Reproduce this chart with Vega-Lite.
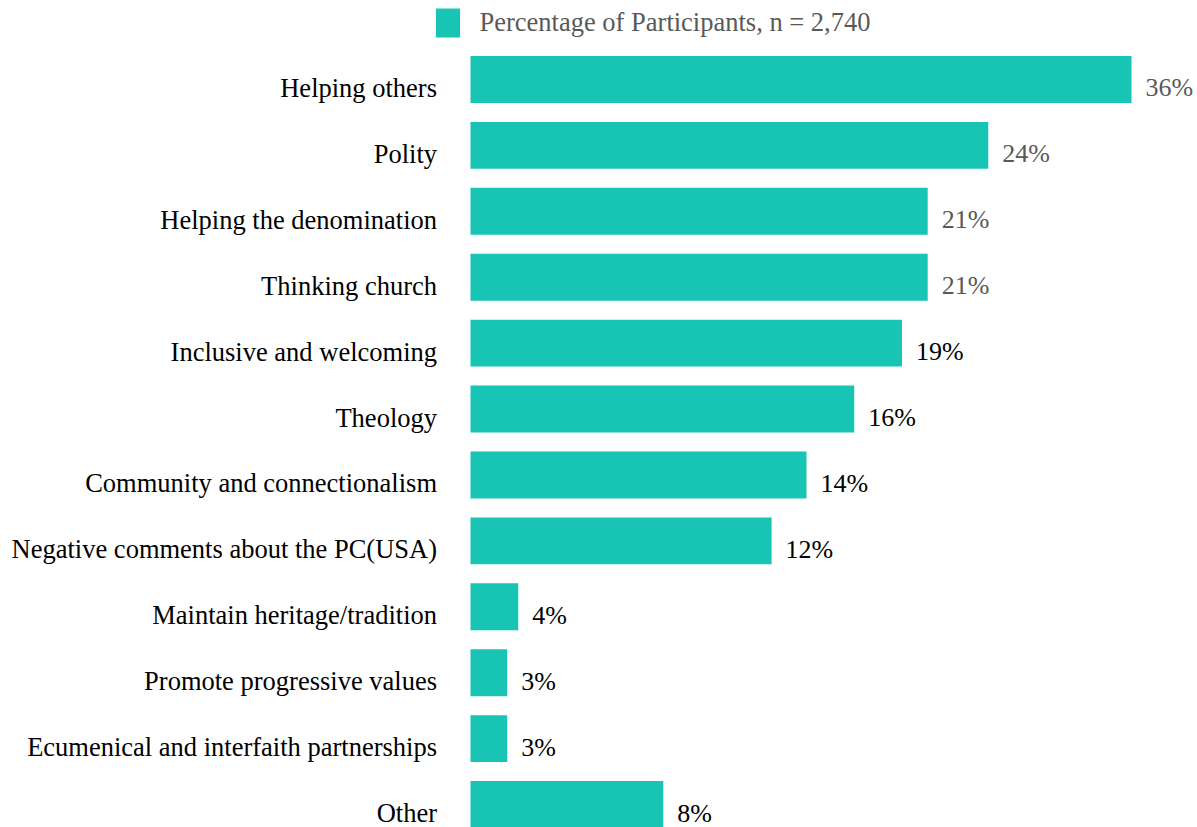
{
  "$schema": "https://vega.github.io/schema/vega-lite/v6.json",
  "width": 661,
  "height": 791,
  "autosize": {"type": "none"},
  "padding": {"left": 470.5, "top": 46.5, "right": 65.5, "bottom": 0},
  "background": "white",
  "config": {
    "view": {"stroke": null},
    "font": "Liberation Serif"
  },
  "data": {
    "values": [
      {"category": "Helping others", "value": 36.0, "label": "36%", "series": "Percentage of Participants, n = 2,740"},
      {"category": "Polity", "value": 28.2, "label": "24%", "series": "Percentage of Participants, n = 2,740"},
      {"category": "Helping the denomination", "value": 24.9, "label": "21%", "series": "Percentage of Participants, n = 2,740"},
      {"category": "Thinking church", "value": 24.9, "label": "21%", "series": "Percentage of Participants, n = 2,740"},
      {"category": "Inclusive and welcoming", "value": 23.5, "label": "19%", "series": "Percentage of Participants, n = 2,740"},
      {"category": "Theology", "value": 20.9, "label": "16%", "series": "Percentage of Participants, n = 2,740"},
      {"category": "Community and connectionalism", "value": 18.3, "label": "14%", "series": "Percentage of Participants, n = 2,740"},
      {"category": "Negative comments about the PC(USA)", "value": 16.4, "label": "12%", "series": "Percentage of Participants, n = 2,740"},
      {"category": "Maintain heritage/tradition", "value": 2.6, "label": "4%", "series": "Percentage of Participants, n = 2,740"},
      {"category": "Promote progressive values", "value": 2.0, "label": "3%", "series": "Percentage of Participants, n = 2,740"},
      {"category": "Ecumenical and interfaith partnerships", "value": 2.0, "label": "3%", "series": "Percentage of Participants, n = 2,740"},
      {"category": "Other", "value": 10.5, "label": "8%", "series": "Percentage of Participants, n = 2,740"}
    ]
  },
  "encoding": {
    "y": {
      "field": "category",
      "type": "nominal",
      "sort": null,
      "scale": {"paddingInner": 0.287, "paddingOuter": 0.1435},
      "axis": {
        "title": null,
        "domain": false,
        "ticks": false,
        "labelPadding": 34,
        "labelFont": "Liberation Serif",
        "labelFontSize": 26.5,
        "labelColor": "#000000",
        "labelBaseline": "alphabetic",
        "labelOffset": 17.5,
        "labelLimit": 600
      }
    },
    "x": {
      "field": "value",
      "type": "quantitative",
      "scale": {"domain": [0, 36], "nice": false, "zero": true},
      "axis": null
    }
  },
  "layer": [
    {
      "mark": {"type": "bar", "clip": false},
      "encoding": {
        "color": {
          "field": "series",
          "type": "nominal",
          "scale": {"range": ["#18C4B4"]},
          "legend": {
            "title": null,
            "orient": "none",
            "legendX": -37,
            "legendY": -38,
            "symbolType": "M-0.83,-1H0.83V1H-0.83Z",
            "symbolSize": 841,
            "symbolStrokeWidth": 0,
            "labelFont": "Liberation Serif",
            "labelFontSize": 26.5,
            "labelColor": "#595959",
            "labelOffset": 17,
            "labelLimit": 800,
            "padding": 0,
            "encode": {"symbols": {"update": {"fill": {"value": "#08CABB"}}}}
          }
        }
      }
    },
    {
      "mark": {"type": "text", "align": "left", "baseline": "alphabetic", "dx": 14, "dy": 17, "font": "Liberation Serif", "fontSize": 26},
      "encoding": {
        "text": {"field": "label"},
        "color": {
          "condition": {"test": "datum.value >= 24", "value": "#595959"},
          "value": "#000000"
        }
      }
    }
  ]
}
